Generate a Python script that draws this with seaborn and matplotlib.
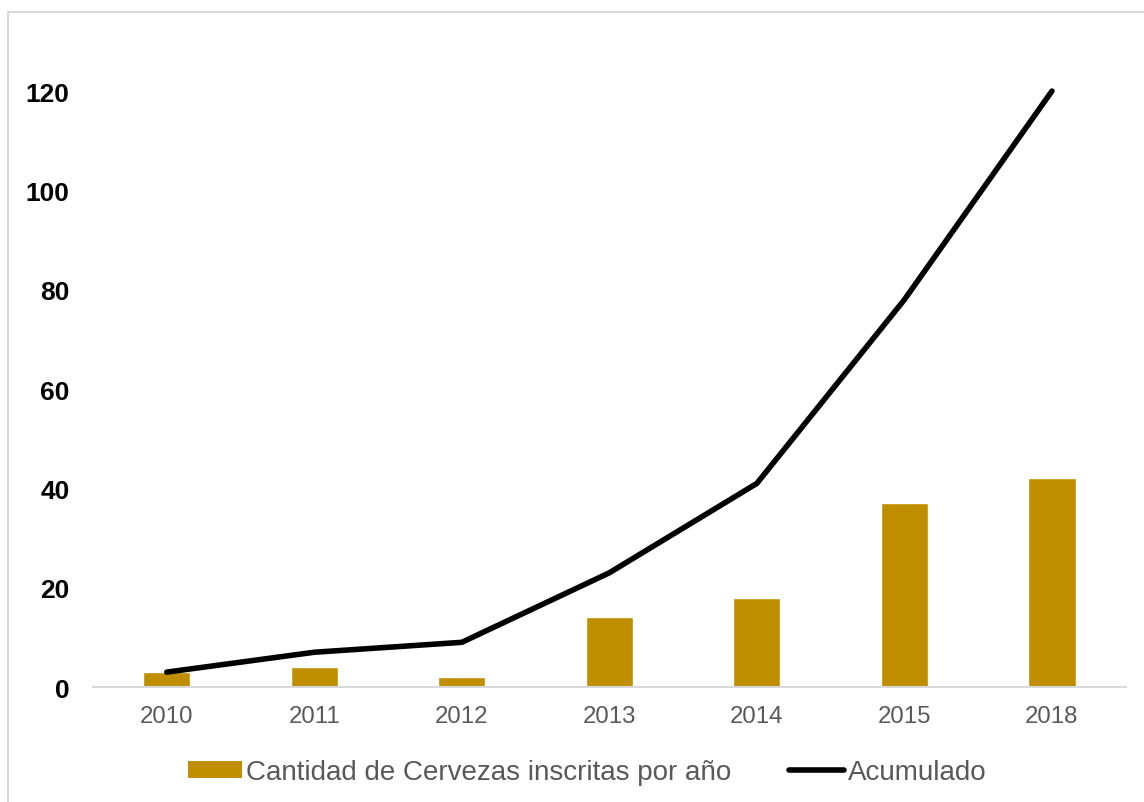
import matplotlib
matplotlib.use("Agg")
import matplotlib.pyplot as plt
from matplotlib.patches import Rectangle
from matplotlib.lines import Line2D
import seaborn as sns
import pandas as pd

# Data
years = ["2010", "2011", "2012", "2013", "2014", "2015", "2018"]
per_year = [3, 4, 2, 14, 18, 37, 42]
cumulative = [3, 7, 9, 23, 41, 78, 120]
y_ticks = [0, 20, 40, 60, 80, 100, 120]
bar_label = "Cantidad de Cervezas inscritas por año"
line_label = "Acumulado"

df = pd.DataFrame({"year": years, "per_year": per_year, "cumulative": cumulative})

sns.set_theme(style="white")
plt.rcParams["font.family"] = ["Liberation Sans", "DejaVu Sans"]

gold = "#BF8F00"
grey_text = "#595959"

fig = plt.figure(figsize=(11.44, 8.03), dpi=100)
ax = fig.add_axes([0.0813, 0.1432, 0.9027, 0.804])

sns.barplot(data=df, x="year", y="per_year", color=gold, width=0.32,
            saturation=1, ax=ax, order=years)
sns.lineplot(data=df, x="year", y="cumulative", color="black", linewidth=4,
             ax=ax, sort=False)
for ln in ax.lines:
    ln.set_solid_capstyle("round")

ax.set_ylim(0, 130)
ax.set_xlim(-0.5, len(years) - 0.5)
ax.set_yticks(y_ticks)
ax.set_yticklabels([str(v) for v in y_ticks], fontsize=19, fontweight="bold",
                   color="black")
ax.tick_params(axis="y", length=0, pad=17)
ax.tick_params(axis="x", length=0, pad=13, labelsize=17.3, labelcolor=grey_text)
ax.set_xlabel("")
ax.set_ylabel("")
ax.grid(False)
for side in ["top", "right", "left"]:
    ax.spines[side].set_visible(False)
ax.spines["bottom"].set_color("#D9D9D9")
ax.spines["bottom"].set_linewidth(1.5)

# Chart-area frame
fig.patches.append(Rectangle((8 / 1144, -0.05), 1.2, (803 - 13) / 803 + 0.05,
                             transform=fig.transFigure, fill=False,
                             edgecolor="#D9D9D9", linewidth=1.5))

handles = [Rectangle((0, 0), 1, 1, facecolor=gold, edgecolor="none"),
           Line2D([0], [0], color="black", linewidth=4, solid_capstyle="round")]
leg = fig.legend(handles, [bar_label, line_label], loc="center",
                 bbox_to_anchor=(587 / 1144, (803 - 773) / 803), ncol=2,
                 frameon=False, fontsize=20, handlelength=1.95,
                 handleheight=0.55, handletextpad=0.15, columnspacing=2.1)
for t in leg.get_texts():
    t.set_color(grey_text)

fig.savefig("out.png", dpi=100)
